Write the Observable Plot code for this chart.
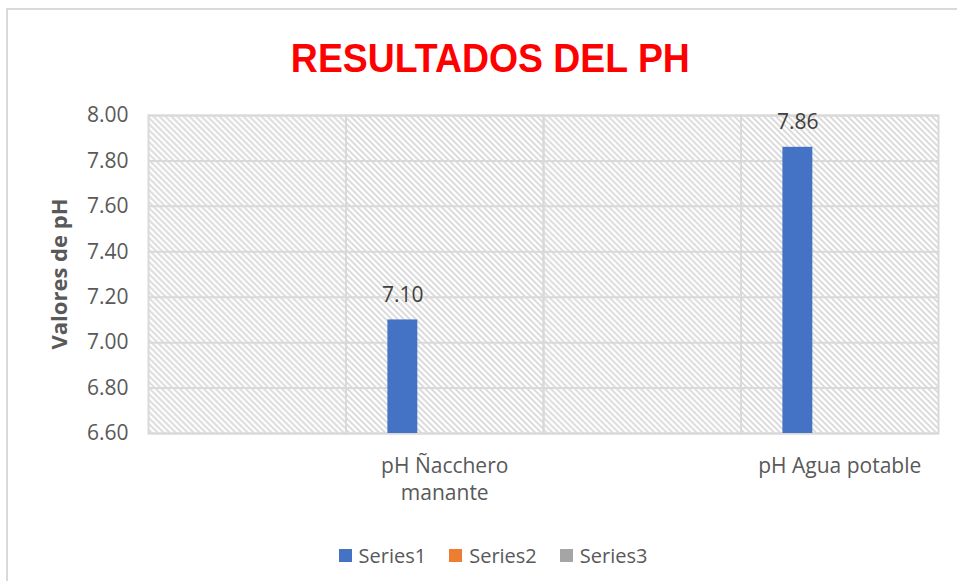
<!DOCTYPE html>
<html>
<head>
<meta charset="utf-8">
<script src="https://cdn.jsdelivr.net/npm/d3@7"></script>
<script src="https://cdn.jsdelivr.net/npm/@observablehq/plot@0.6"></script>
<style>
  html, body { margin: 0; padding: 0; background: #fff; }
  body { width: 957px; height: 581px; position: relative; overflow: hidden; font-family: "Open Sans", sans-serif; }
  #border { position: absolute; left: 6px; top: 8px; width: 1000px; height: 700px; border-left: 2px solid #d9d9d9; border-top: 2px solid #d9d9d9; box-sizing: border-box; }
  #title { position: absolute; left: 0; top: 31px; width: 980px; text-align: center; }
  #title span { display: inline-block; transform: scaleX(0.935); color: #ff0000; font-family: "Liberation Sans", sans-serif; font-weight: bold; font-size: 40px; line-height: 54px; }
  #chart { position: absolute; left: 0; top: 95px; }
  #ytitle { position: absolute; left: 58px; top: 274px; transform: translate(-50%, -50%) rotate(-90deg); white-space: nowrap; color: #595959; font-weight: bold; font-size: 22px; }
  #legend { position: absolute; left: 0; top: 542px; width: 986px; display: flex; justify-content: center; gap: 23px; color: #595959; font-size: 20px; }
  .item { display: flex; align-items: center; gap: 7px; }
  .sw { width: 13px; height: 13px; display: inline-block; }
</style>
</head>
<body>
<div id="border"></div>
<div id="title"><span></span></div>
<div id="chart"></div>
<div id="ytitle"></div>
<div id="legend"></div>
<script>
const titleText = "RESULTADOS DEL PH";
const yTitle = "Valores de pH";
const categoryIds = ["c1", "c2", "c3", "c4"];
const categoryLabels = ["", "pH Ñacchero\nmanante", "", "pH Agua potable"];
const seriesNames = ["Series1", "Series2", "Series3"];
const seriesColors = ["#4472C4", "#ED7D31", "#A5A5A5"];
const series1 = [null, 7.10, null, 7.86];
const series2 = [null, null, null, null];
const series3 = [null, null, null, null];
const yTicks = [6.6, 6.8, 7.0, 7.2, 7.4, 7.6, 7.8, 8.0];
const yDomain = [6.6, 8.0];

const seriesValues = [series1, series2, series3];
const rows = [];
categoryIds.forEach((c, i) => {
  seriesNames.forEach((s, j) => {
    rows.push({cat: c, series: s, value: seriesValues[j][i]});
  });
});
const data = rows.filter(d => d.value != null);
const labelOf = new Map(categoryIds.map((c, i) => [c, categoryLabels[i]]));

document.querySelector("#title span").textContent = titleText;
document.getElementById("ytitle").textContent = yTitle;

const plot = Plot.plot({
  width: 957,
  height: 420,
  marginTop: 20,
  marginBottom: 82,
  marginLeft: 148,
  marginRight: 19,
  style: {fontFamily: "Open Sans", fontSize: "21px", color: "#595959", background: "transparent"},
  fx: {domain: categoryIds, padding: 0, round: false},
  x: {domain: seriesNames, paddingInner: 0.286, paddingOuter: 1.0, round: false, axis: null},
  y: {domain: yDomain},
  color: {domain: seriesNames, range: seriesColors},
  marks: [
    Plot.frame({fill: "url(#hatch)", stroke: null}),
    Plot.gridY(yTicks, {stroke: "#d9d9d9", strokeOpacity: 1, strokeWidth: 2}),
    Plot.frame({stroke: "#d9d9d9", strokeWidth: 2}),
    Plot.axisY({ticks: yTicks, tickFormat: d3.format(".2f"), tickSize: 0, tickPadding: 20, label: null, fontSize: 21}),
    Plot.axisFx({anchor: "bottom", tickSize: 0, tickPadding: 20, label: null, fontSize: 21, lineHeight: 1.3, tickFormat: d => labelOf.get(d)}),
    Plot.barY(rows, {fx: "cat", x: "series", y1: yDomain[0], y2: "value", fill: "series"}),
    Plot.text(data, {fx: "cat", x: "series", y: "value", text: d => d.value.toFixed(2), dy: -25, fill: "#404040", fontSize: 21})
  ]
});

d3.select(plot).insert("defs", ":first-child").html(
  '<pattern id="hatch" patternUnits="userSpaceOnUse" width="6" height="6">' +
  '<path d="M0,0L6,6M-1,5L1,7M5,-1L7,1" stroke="#d4d4d4" stroke-width="1.6"/></pattern>'
);
document.getElementById("chart").appendChild(plot);

const legend = document.getElementById("legend");
seriesNames.forEach((s, i) => {
  const it = document.createElement("div");
  it.className = "item";
  const sw = document.createElement("span");
  sw.className = "sw";
  sw.style.background = seriesColors[i];
  const t = document.createElement("span");
  t.textContent = s;
  it.appendChild(sw);
  it.appendChild(t);
  legend.appendChild(it);
});
</script>
</body>
</html>
